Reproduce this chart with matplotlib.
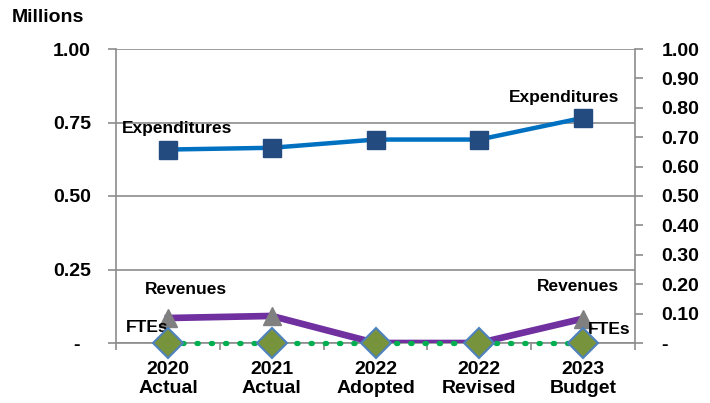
import matplotlib
matplotlib.use("Agg")
import matplotlib.pyplot as plt
import matplotlib.transforms as mtransforms
import numpy as np

plt.rcParams['font.family'] = ['Liberation Sans', 'DejaVu Sans']
plt.rcParams['font.weight'] = 'bold'

categories = ["2020\nActual", "2021\nActual", "2022\nAdopted", "2022\nRevised", "2023\nBudget"]
expenditures = [0.658, 0.664, 0.692, 0.692, 0.766]
revenues = [0.085, 0.092, 0.0, 0.0, 0.083]
ftes = [0.0, 0.0, 0.0, 0.0, 0.0]
left_ticks = [0.0, 0.25, 0.50, 0.75, 1.00]
left_labels = ["-", "0.25", "0.50", "0.75", "1.00"]
right_ticks = [0.0, 0.1, 0.2, 0.3, 0.4, 0.5, 0.6, 0.7, 0.8, 0.9, 1.0]
right_labels = ["-", "0.10", "0.20", "0.30", "0.40", "0.50", "0.60", "0.70", "0.80", "0.90", "1.00"]

GRAY = "#8c8c8c"
fig = plt.figure(figsize=(7.10, 4.03), dpi=100)
ax = fig.add_axes([116/710, 1-343/403, (635-116)/710, (343-49)/403])
x = np.arange(len(categories))

ax.plot(x, expenditures, color="#0070C0", lw=3.2, marker="s", ms=13.5,
        mfc="#234B80", mec="#234B80", zorder=3)
ax.plot(x, revenues, color="#7030A0", lw=4.8, marker="^", ms=13,
        mfc="#808080", mec="#808080", zorder=3)

ax.set_xlim(-0.5, len(categories)-0.5)
ax.set_ylim(0, 1.0)
ax.set_yticks(left_ticks)
ax.set_yticklabels(left_labels, fontsize=14, fontweight='bold')
ax.yaxis.grid(True, color=GRAY, lw=1.2)
ax.set_axisbelow(True)
ax.tick_params(axis='y', length=6, width=1.2, color=GRAY, pad=12)
ax.set_xticks(x)
ax.set_xticklabels(categories, fontsize=14, fontweight='bold', linespacing=1.15)
ax.set_xticks(np.arange(-0.5, len(categories), 1.0), minor=True)
ax.tick_params(axis='x', which='major', length=0, pad=13)
ax.tick_params(axis='x', which='minor', length=5, width=1.2, color=GRAY)
for s in ['left', 'right', 'bottom']:
    ax.spines[s].set_color(GRAY)
    ax.spines[s].set_linewidth(1.2)
ax.spines['top'].set_visible(False)

# shift zero label like Excel accounting format
for lab in ax.get_yticklabels():
    if lab.get_text() == "-":
        lab.set_transform(lab.get_transform() + mtransforms.ScaledTranslation(-11/100, 0, fig.dpi_scale_trans))

ax2 = ax.twinx()
ax2.plot(x, ftes, color="#00B050", lw=3.8, linestyle=(0, (0.25, 2.45)),
         dash_capstyle='round', marker="D", ms=15, mfc="#77933C", mec="#4F81BD",
         mew=1.5, zorder=4, clip_on=False)
ax2.set_ylim(0, 1.0)
ax2.set_yticks(right_ticks)
ax2.set_yticklabels(right_labels, fontsize=14, fontweight='bold')
ax2.tick_params(axis='y', length=6, width=1.2, color=GRAY, pad=13)
for s in ['left', 'right', 'bottom', 'top']:
    ax2.spines[s].set_visible(False)

# data labels
kw = dict(textcoords='offset pixels', ha='center', va='center', fontsize=12.5, fontweight='bold')
ax.annotate("Expenditures", (0, expenditures[0]), xytext=(9, 21), **kw)
ax.annotate("Expenditures", (4, expenditures[4]), xytext=(-19, 20), **kw)
ax.annotate("Revenues", (0, revenues[0]), xytext=(18, 29), **kw)
ax.annotate("Revenues", (4, revenues[4]), xytext=(-5, 32), **kw)
ax2.annotate("FTEs", (0, ftes[0]), xytext=(-21, 15), **kw)
ax2.annotate("FTEs", (4, ftes[4]), xytext=(26, 13), **kw)

fig.text(12/710, 1-17/403, "Millions", fontsize=14, fontweight='bold', ha='left', va='center')

fig.savefig("out.png", dpi=100)
